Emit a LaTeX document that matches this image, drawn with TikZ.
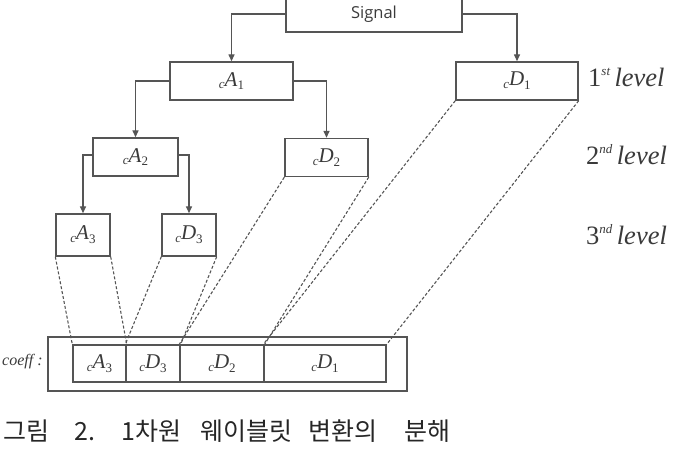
\documentclass[tikz,border=0pt]{standalone}
\usepackage{fontspec}
\setmainfont{Liberation Serif}
\newfontfamily\sigfont{Open Sans}
\newfontfamily\krfont{Noto Sans CJK KR}
\usetikzlibrary{arrows.meta}
\definecolor{boxc}{HTML}{555555}
\definecolor{txtc}{HTML}{3A3A3A}
\newcommand{\wl}[2]{\raisebox{-0.3ex}{\fontsize{13}{13}\selectfont\itshape c}\textit{#1}\raisebox{-0.4ex}{\fontsize{13}{13}\selectfont #2}}
\newcommand{\lev}[2]{#1\raisebox{0.9ex}{\fontsize{13}{13}\selectfont\itshape #2}\,\textit{level}}
\begin{document}
\begin{tikzpicture}[x=1pt,y=-1pt,
  bx/.style={draw=boxc,line width=1.4pt,rectangle,inner sep=0pt,text=txtc,font=\fontsize{21}{21}\selectfont},
  arr/.style={draw=boxc,line width=1.4pt,-{Triangle[length=7pt,width=6pt]}},
  dsh/.style={draw=boxc,line width=1.1pt,dash pattern=on 3pt off 2pt},
  lvl/.style={anchor=west,inner sep=0pt,text=txtc,font=\fontsize{26.5}{26.5}\selectfont}]
\useasboundingbox (0,0) rectangle (677,457);
\begin{scope}
\clip (0,0) rectangle (677,457);
\node[bx,minimum width=176pt,minimum height=40pt] (sig) at (374,12) {};
\end{scope}
\node[text=txtc,font=\sigfont\fontsize{16.5}{16.5}\selectfont,inner sep=0pt] (sigt) at (374,14) {Signal};
\node[bx,minimum width=123pt,minimum height=38pt] (cA1) at (231.5,81) {\wl{A}{1}};
\node[bx,minimum width=122pt,minimum height=38pt] (cD1) at (517,81) {\wl{D}{1}};
\node[bx,minimum width=85pt,minimum height=38pt] (cA2) at (135.5,157) {\wl{A}{2}};
\node[bx,minimum width=83pt,minimum height=38pt] (cD2) at (326.5,157.5) {\wl{D}{2}};
\node[bx,minimum width=54pt,minimum height=42pt] (cA3) at (83,235) {\wl{A}{3}};
\node[bx,minimum width=54pt,minimum height=42pt] (cD3) at (189,235) {\wl{D}{3}};

\node[bx,minimum width=359pt,minimum height=54pt] (outer) at (227.5,364) {};
\node[bx,minimum width=53pt,minimum height=37pt] (iA3) at (99.5,363.5) {\wl{A}{3}};
\node[bx,minimum width=54pt,minimum height=37pt] (iD3) at (153,363.5) {\wl{D}{3}};
\node[bx,minimum width=84pt,minimum height=37pt] (iD2) at (222,363.5) {\wl{D}{2}};
\node[bx,minimum width=122pt,minimum height=37pt] (iD1) at (325,363.5) {\wl{D}{1}};

\node[lvl] (l1) at (588,77) {\lev{1}{st}};
\node[lvl] (l2) at (586,155) {\lev{2}{nd}};
\node[lvl] (l3) at (586,235) {\lev{3}{nd}};

\node[anchor=west,inner sep=0pt,text=txtc,font=\fontsize{16}{16}\selectfont\itshape] (coeff) at (2,362) {coeff :};

\node[anchor=west,inner sep=0pt,text=black!85,font=\krfont\fontsize{25}{25}\selectfont] (cap) at (3.5,431)
  {그림\hspace{24.5pt}2.\hspace{26.5pt}1차원\hspace{19pt}웨이블릿\hspace{16pt}변환의\hspace{27pt}분해};

\draw[arr] (sig.west |- sigt) -| (cA1.north);
\draw[arr] (sig.east |- sigt) -| (cD1.north);
\draw[arr] (cA1.west) -| (cA2.north);
\draw[arr] (cA1.east) -| (cD2.north);
\draw[arr] ([yshift=2pt]cA2.west) -| (cA3.north);
\draw[arr] ([yshift=2pt]cA2.east) -| (cD3.north);

\draw[dsh] (cA3.south west) -- (iA3.north west);
\draw[dsh] (cA3.south east) -- (iA3.north east);
\draw[dsh] (cD3.south west) -- (iD3.north west);
\draw[dsh] (cD3.south east) -- (iD3.north east);
\draw[dsh] (cD2.south west) -- (iD2.north west);
\draw[dsh] (cD2.south east) -- (iD2.north east);
\draw[dsh] (cD1.south west) -- (iD1.north west);
\draw[dsh] (cD1.south east) -- (iD1.north east);
\end{tikzpicture}
\end{document}
